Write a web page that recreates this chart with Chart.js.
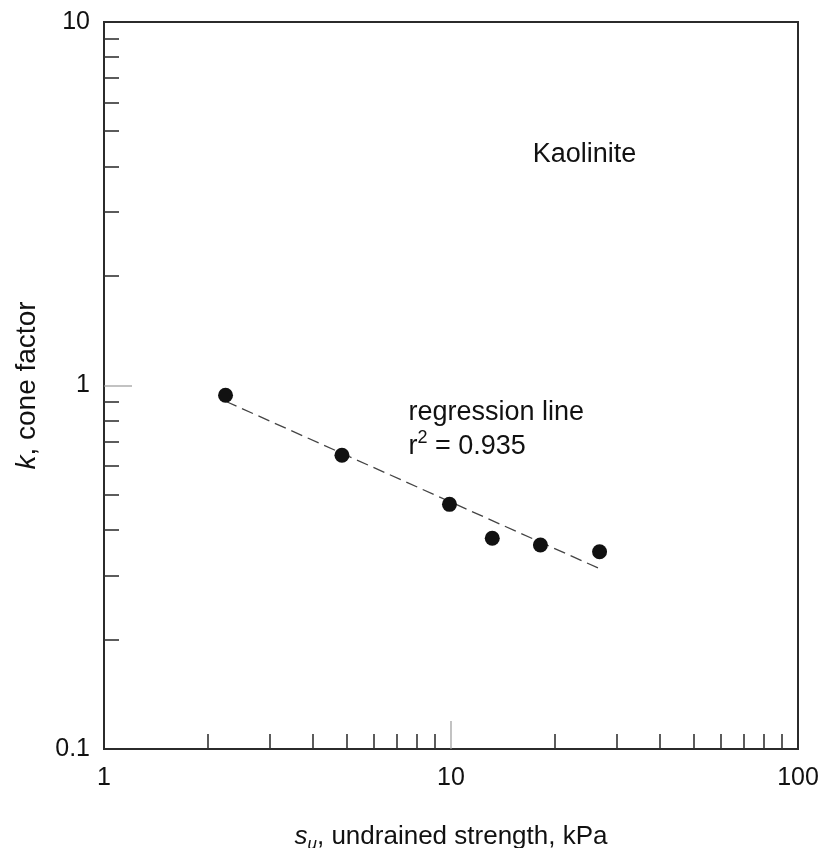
<!DOCTYPE html>
<html>
<head>
<meta charset="utf-8">
<script src="https://cdn.jsdelivr.net/npm/chart.js@4.4.0/dist/chart.umd.min.js"></script>
<style>
  html, body { margin: 0; padding: 0; background: #fff; }
  #wrap { width: 822px; height: 848px; }
</style>
</head>
<body>
<div id="wrap"><canvas id="cone"></canvas></div>
<script>
// measured points (Kaolinite)
var strength = [2.24, 4.85, 9.9, 13.15, 18.1, 26.8];
var coneFactor = [0.94, 0.643, 0.471, 0.380, 0.364, 0.349];
// regression line end points
var fitX = [2.24, 26.7];
var fitY = [0.905, 0.314];
var xTickLabels = [1, 10, 100];
var yTickLabels = [0.1, 1, 10];
var minorTicks = [2, 3, 4, 5, 6, 7, 8, 9];

var plotFont = "'Liberation Sans', Arial, Helvetica, sans-serif";

function drawRuns(ctx, runs, x, y, align) {
  var total = 0;
  runs.forEach(function (r) {
    ctx.font = r.font;
    r.w = ctx.measureText(r.text).width;
    total += r.w;
  });
  var cx = align === 'center' ? x - total / 2 : x;
  runs.forEach(function (r) {
    ctx.font = r.font;
    ctx.fillText(r.text, cx, y + (r.dy || 0));
    cx += r.w;
  });
}

var framePlugin = {
  id: 'frame',
  beforeDatasetsDraw: function (chart) {
    var ctx = chart.ctx, a = chart.chartArea;
    var xs = chart.scales.x, ys = chart.scales.y;
    function line(x1, y1, x2, y2) {
      ctx.beginPath(); ctx.moveTo(x1, y1); ctx.lineTo(x2, y2); ctx.stroke();
    }
    ctx.save();
    ctx.strokeStyle = '#2b2b2b';
    ctx.lineWidth = 2;
    ctx.strokeRect(a.left, a.top, a.right - a.left, a.bottom - a.top);

    // inward minor ticks, left and bottom only
    ctx.lineWidth = 1.6;
    ctx.strokeStyle = '#333';
    [1, 10].forEach(function (dec) {
      minorTicks.forEach(function (m) {
        var px = Math.round(xs.getPixelForValue(m * dec));
        line(px, a.bottom, px, a.bottom - 15);
      });
    });
    [0.1, 1].forEach(function (dec) {
      minorTicks.forEach(function (m) {
        var py = Math.round(ys.getPixelForValue(m * dec));
        line(a.left, py, a.left + 15, py);
      });
    });

    // the lone major ticks are thin and grey
    ctx.strokeStyle = '#9a9a9a';
    ctx.lineWidth = 1.2;
    var px10 = Math.round(xs.getPixelForValue(10));
    line(px10, a.bottom, px10, a.bottom - 28);
    var py1 = Math.round(ys.getPixelForValue(1));
    line(a.left, py1, a.left + 28, py1);
    ctx.restore();
  },
  afterDraw: function (chart) {
    var ctx = chart.ctx, a = chart.chartArea;
    var xs = chart.scales.x, ys = chart.scales.y;
    ctx.save();
    ctx.fillStyle = '#111';
    ctx.textBaseline = 'alphabetic';

    // x axis title
    drawRuns(ctx, [
      { text: 's', font: 'italic 26px ' + plotFont },
      { text: 'u', font: 'italic 17px ' + plotFont, dy: 5 },
      { text: ', undrained strength, kPa', font: '26px ' + plotFont }
    ], (a.left + a.right) / 2, 844, 'center');

    // y axis title
    ctx.save();
    ctx.translate(35, (a.top + a.bottom) / 2);
    ctx.rotate(-Math.PI / 2);
    drawRuns(ctx, [
      { text: 'k', font: 'italic 28px ' + plotFont },
      { text: ', cone factor', font: '28px ' + plotFont }
    ], 0, 0, 'center');
    ctx.restore();

    // annotations
    var ann = '27px ' + plotFont;
    drawRuns(ctx, [{ text: 'Kaolinite', font: ann }],
      xs.getPixelForValue(17.2), ys.getPixelForValue(4.13), 'left');
    drawRuns(ctx, [{ text: 'regression line', font: ann }],
      xs.getPixelForValue(7.54), ys.getPixelForValue(0.806), 'left');
    drawRuns(ctx, [
      { text: 'r', font: ann },
      { text: '2', font: '18px ' + plotFont, dy: -11 },
      { text: ' = 0.935', font: ann }
    ], xs.getPixelForValue(7.54), ys.getPixelForValue(0.650), 'left');
    ctx.restore();
  }
};

var points = strength.map(function (x, i) { return { x: x, y: coneFactor[i] }; });
var fitLine = fitX.map(function (x, i) { return { x: x, y: fitY[i] }; });

var ctx1 = document.getElementById('cone');
var coneChart = new Chart(ctx1, {
  type: 'scatter',
  data: {
    datasets: [
      {
        label: 'Kaolinite',
        data: points,
        pointRadius: 7.5,
        pointBackgroundColor: '#111',
        pointBorderWidth: 0,
        showLine: false
      },
      {
        label: 'regression line',
        data: fitLine,
        showLine: true,
        borderColor: '#444',
        borderWidth: 1.3,
        borderDash: [12, 6],
        pointRadius: 0,
        fill: false
      }
    ]
  },
  options: {
    responsive: true,
    maintainAspectRatio: false,
    animation: false,
    layout: { padding: { left: 0, right: 24, top: 22, bottom: 0 } },
    plugins: {
      legend: { display: false },
      tooltip: { enabled: false }
    },
    scales: {
      x: {
        type: 'logarithmic',
        position: 'bottom',
        min: 1,
        max: 100,
        afterBuildTicks: function (scale) {
          scale.ticks = xTickLabels.map(function (v) { return { value: v }; });
        },
        afterFit: function (scale) {
          scale.height = 99;
          scale.paddingLeft = 0;
          scale.paddingRight = 0;
        },
        ticks: {
          autoSkip: false,
          maxRotation: 0,
          padding: 14,
          color: '#111',
          font: { size: 25, family: plotFont },
          callback: function (v) { return String(v); }
        },
        grid: { display: false, drawTicks: false },
        border: { display: false }
      },
      y: {
        type: 'logarithmic',
        position: 'left',
        min: 0.1,
        max: 10,
        afterBuildTicks: function (scale) {
          scale.ticks = yTickLabels.map(function (v) { return { value: v }; });
        },
        afterFit: function (scale) {
          scale.width = 104;
          scale.paddingTop = 0;
          scale.paddingBottom = 0;
        },
        ticks: {
          autoSkip: false,
          padding: 14,
          color: '#111',
          font: { size: 25, family: plotFont },
          callback: function (v) { return String(v); }
        },
        grid: { display: false, drawTicks: false },
        border: { display: false }
      }
    }
  },
  plugins: [framePlugin]
});
</script>
</body>
</html>
